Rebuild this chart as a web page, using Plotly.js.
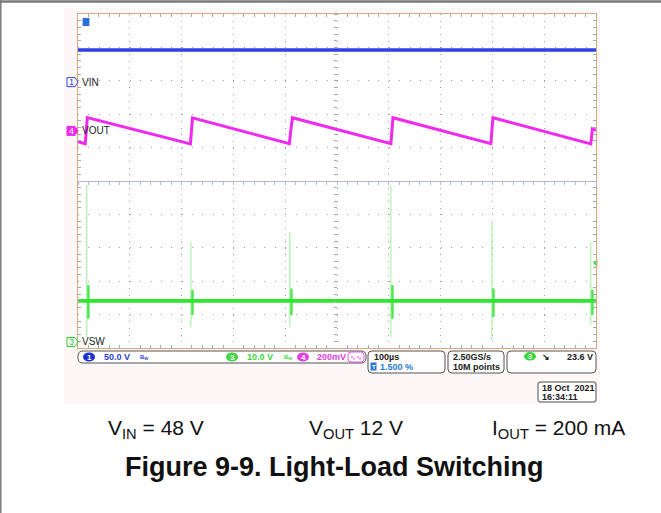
<!DOCTYPE html>
<html><head><meta charset="utf-8">
<script src="https://cdn.plot.ly/plotly-3.0.1.min.js"></script>
<style>html,body{margin:0;padding:0;background:#fff}#chart{width:661px;height:513px}</style>
</head><body><div id="chart"></div>
<script>
// ---------------- data ----------------
// time axis: 100 µs/div, 10 divisions, trigger at 1.5 % of record
const timeRange = [-15, 985];               // µs
// CH1  VIN (V)
const vinTime  = [-15, 985];
const vinVolts = [48, 48];
// CH4  VOUT ripple (mV, AC)
const voutTime   = [-15, -1, 3, 202, 206, 393, 396, 399, 589, 593, 782, 786, 975, 978, 985];
const voutRipple = [-64, -77, 80, -78, 78, -76, 8, 79, -76, 79, -76, 79, -78, 12, 4];
// CH3  VSW (V)
const vswBaseTime  = [-15, 985];
const vswBaseVolts = [12.3, 12.3];
const vswSpikeTime = [2, 203, 394, 589, 784, 975];
const vswSpikeHigh = [47, 29.9, 32.9, 47, 35.9, 29.9];
const vswSpikeLow  = [1.5, 4.5, 4.5, 1.5, 0.6, 5.1];
const vswRingHigh  = [17, 15.6, 16, 17, 16, 15.6];
const vswRingLow   = [7, 8.1, 8, 7, 7.5, 8.1];
const trigLevel = 23.6;  // V on CH3
// status-bar / caption texts
const ch1Label = 'VIN', ch3Label = 'VSW', ch4Label = 'VOUT';
const ch1ScaleTxt = '50.0 V', ch3ScaleTxt = '10.0 V', ch4ScaleTxt = '200mV';
const timebaseTxt = '100µs', trigPosTxt = '1.500 %';
const sampleTxt = ['2.50GS/s', '10M points'];
const trigTxt = '23.6 V';
const dateTxt = ['18 Oct  2021', '16:34:11'];
const condTexts = ['V<sub>IN</sub> = 48 V', 'V<sub>OUT</sub> 12 V', 'I<sub>OUT</sub> = 200 mA'];
const captionTxt = '<b>Figure 9-9. Light-Load Switching</b>';

// ---------------- channel settings (volts/div, ground position in div) ----------------
const CH1 = {scale: 50, ground: 2.96};
const CH3 = {scale: 10, ground: -4.82};
const CH4 = {scale: 200, ground: 1.5};   // mV/div

// ---------------- geometry helpers ----------------
const L = 78, R = 596, T = 14, B = 348;
const X = px => (px - L) / (R - L);
const Y = py => (B - py) / (B - T);
function rr(x0, y0, x1, y1, r) {
  const p = (x, y) => X(x) + ',' + Y(y);
  return `M ${p(x0 + r, y0)} L ${p(x1 - r, y0)} Q ${p(x1, y0)} ${p(x1, y0 + r)} L ${p(x1, y1 - r)} Q ${p(x1, y1)} ${p(x1 - r, y1)} L ${p(x0 + r, y1)} Q ${p(x0, y1)} ${p(x0, y1 - r)} L ${p(x0, y0 + r)} Q ${p(x0, y0)} ${p(x0 + r, y0)} Z`;
}
const FONT = 'Liberation Sans, Arial, sans-serif';
function ann(px, py, text, o = {}) {
  return Object.assign({xref: 'paper', yref: 'paper', x: X(px), y: Y(py), text, showarrow: false,
    xanchor: 'center', yanchor: 'middle', borderpad: 0,
    font: {family: FONT, size: o.size || 9, color: o.color || '#202020', weight: o.weight || 'bold'}}, o.extra || {});
}

// ---------------- traces ----------------
const BLUE = '#2f3fe6', MAG = '#f028f0', GREEN = '#2ee62e';
const spikeX = [], spikeY = [], ringX = [], ringY = [];
vswSpikeTime.forEach((t, i) => {
  spikeX.push(t, t, null);
  spikeY.push(CH3.ground + vswSpikeHigh[i] / CH3.scale, CH3.ground + vswSpikeLow[i] / CH3.scale, null);
  ringX.push(t + 3, t + 3, null);
  ringY.push(CH3.ground + vswRingHigh[i] / CH3.scale, CH3.ground + vswRingLow[i] / CH3.scale, null);
});
const traces = [
  {x: vinTime, y: vinVolts.map(v => CH1.ground + v / CH1.scale), mode: 'lines', line: {color: BLUE, width: 3.5}},
  {x: voutTime, y: voutRipple.map(v => CH4.ground + v / CH4.scale), mode: 'lines', line: {color: MAG, width: 3}},
  {x: spikeX, y: spikeY, mode: 'lines', line: {color: '#9af29a', width: 1}, connectgaps: false},
  {x: ringX, y: ringY, mode: 'lines', line: {color: '#4ee84e', width: 2.5}, connectgaps: false},
  {x: vswBaseTime, y: vswBaseVolts.map(v => CH3.ground + v / CH3.scale), mode: 'lines', line: {color: GREEN, width: 3.8}},
  {x: [timeRange[1]], y: [CH3.ground + trigLevel / CH3.scale], mode: 'markers', cliponaxis: false,
   marker: {symbol: 'triangle-left', size: 6, color: GREEN}},
  {x: [timeRange[0]], y: [0], xaxis: 'x2', yaxis: 'y2', mode: 'markers', marker: {opacity: 0}, hoverinfo: 'skip'}
];

// ---------------- shapes ----------------
const shapes = [
  {type: 'rect', xref: 'paper', yref: 'paper', x0: X(64), x1: X(600), y0: Y(8), y1: Y(404), fillcolor: '#fef7f7', line: {width: 0}, layer: 'below'},
  {type: 'rect', xref: 'paper', yref: 'paper', x0: 0, x1: 1, y0: 0, y1: 1, fillcolor: '#ffffff', line: {width: 0}, layer: 'below'},
  {type: 'line', xref: 'paper', yref: 'paper', x0: X(0), x1: X(661), y0: Y(1.5), y1: Y(1.5), line: {color: '#7a7a7a', width: 2.5}},
  {type: 'line', xref: 'paper', yref: 'paper', x0: X(0.8), x1: X(0.8), y0: Y(0), y1: Y(513), line: {color: '#7a7a7a', width: 1.5}},
  // status boxes
  {type: 'path', xref: 'paper', yref: 'paper', path: rr(78, 351, 366, 363, 5), line: {color: '#555', width: 1}, fillcolor: '#fff'},
  {type: 'path', xref: 'paper', yref: 'paper', path: rr(368, 351, 445, 373, 4), line: {color: '#555', width: 1}, fillcolor: '#fff'},
  {type: 'path', xref: 'paper', yref: 'paper', path: rr(448, 351, 504, 373, 4), line: {color: '#555', width: 1}, fillcolor: '#fff'},
  {type: 'path', xref: 'paper', yref: 'paper', path: rr(507, 351, 596, 373, 4), line: {color: '#555', width: 1}, fillcolor: '#fff'},
  {type: 'path', xref: 'paper', yref: 'paper', path: rr(538, 382, 596, 402, 3), line: {color: '#888', width: 1.5}, fillcolor: '#fff'},
  {type: 'path', xref: 'paper', yref: 'paper', path: rr(348, 352, 364, 362, 3), line: {color: MAG, width: 0.8}, fillcolor: '#fff'},
  // channel ovals
  {type: 'circle', xref: 'paper', yref: 'paper', x0: X(83), x1: X(95), y0: Y(352.5), y1: Y(361.5), fillcolor: '#1b2fd0', line: {width: 0}},
  {type: 'circle', xref: 'paper', yref: 'paper', x0: X(226), x1: X(238), y0: Y(352.5), y1: Y(361.5), fillcolor: '#3ed63e', line: {width: 0}},
  {type: 'circle', xref: 'paper', yref: 'paper', x0: X(297), x1: X(309), y0: Y(352.5), y1: Y(361.5), fillcolor: '#e040e0', line: {width: 0}},
  {type: 'circle', xref: 'paper', yref: 'paper', x0: X(524), x1: X(536), y0: Y(352), y1: Y(360.5), fillcolor: '#3ed63e', line: {width: 0}},
  {type: 'rect', xref: 'paper', yref: 'paper', x0: X(370.5), x1: X(376.5), y0: Y(362.5), y1: Y(370.5), fillcolor: '#2a7ad8', line: {width: 0}},
  // trigger-position marker
  {type: 'rect', xref: 'x', yref: 'paper', x0: -6, x1: 7, y0: Y(18), y1: Y(26), fillcolor: '#2a6fd8', line: {width: 0}}
];
// channel ground markers (pentagons)
function pent(ground, fill, stroke) {
  const yc = 181 - ground * 33.4;
  const p = (x, y) => X(x) + ',' + Y(y);
  return {type: 'path', xref: 'paper', yref: 'paper',
    path: `M ${p(67, yc - 4.5)} L ${p(75, yc - 4.5)} L ${p(78, yc)} L ${p(75, yc + 4.5)} L ${p(67, yc + 4.5)} Z`,
    fillcolor: fill, line: {color: stroke, width: 1}};
}
shapes.push(pent(CH1.ground, '#fff', BLUE), pent(CH4.ground, MAG, MAG), pent(CH3.ground, '#fff', '#2ec82e'));

// ---------------- annotations ----------------
const chAnn = (ground, num, numColor, label) => [
  {xref: 'paper', yref: 'y', x: X(71.5), y: ground, text: num, showarrow: false, xanchor: 'center', yanchor: 'middle',
   font: {family: FONT, size: 9, color: numColor}},
  {xref: 'paper', yref: 'y', x: X(80), y: ground, text: label, showarrow: false, xanchor: 'left', yanchor: 'middle',
   font: {family: FONT, size: 10, color: '#222'}}
];
const annotations = [
  ...chAnn(CH1.ground, '1', BLUE, ch1Label),
  ...chAnn(CH4.ground, '4', '#fff', ch4Label),
  ...chAnn(CH3.ground, '3', '#2ec82e', ch3Label),
  {xref: 'x', yref: 'paper', x: 0.5, y: Y(22), text: '<b>T</b>', showarrow: false, font: {family: FONT, size: 8, color: '#fff'}},
  {xref: 'x', yref: 'paper', x: 0.5, y: Y(15.5), text: '▼', showarrow: false, font: {family: 'DejaVu Sans', size: 6, color: '#2a6fd8'}},
  ann(89, 357, '1', {size: 8, color: '#fff'}),
  ann(117, 357, ch1ScaleTxt, {color: '#2f3fd8'}),
  ann(144, 357, 'B<sub>W</sub>', {size: 6, color: '#2f3fd8'}),
  ann(232, 357, '3', {size: 8, color: '#fff'}),
  ann(260, 357, ch3ScaleTxt, {color: '#3ed63e'}),
  ann(288, 357, 'B<sub>W</sub>', {size: 6, color: '#3ed63e'}),
  ann(303, 357, '4', {size: 8, color: '#fff'}),
  ann(331, 357, ch4ScaleTxt, {color: '#e040e0'}),
  ann(356, 357, '∿∿', {size: 7, color: '#e040e0', weight: 'normal'}),
  ann(373, 356.5, timebaseTxt, {extra: {xanchor: 'left'}}),
  ann(373.5, 366.5, 'T', {size: 6, color: '#fff'}),
  ann(379, 366.5, trigPosTxt, {color: '#2a7ad8', extra: {xanchor: 'left'}}),
  ann(452, 356.5, sampleTxt[0], {extra: {xanchor: 'left'}}),
  ann(452, 366.5, sampleTxt[1], {extra: {xanchor: 'left'}}),
  ann(530, 356.3, '3', {size: 7, color: '#fff'}),
  ann(546, 356.5, '↘', {size: 9, color: '#202020'}),
  ann(594, 356.5, trigTxt, {extra: {xanchor: 'right'}}),
  ann(541, 387.5, dateTxt[0], {extra: {xanchor: 'left'}}),
  ann(541, 397, dateTxt[1], {extra: {xanchor: 'left'}}),
  ann(156, 429, condTexts[0], {size: 21, color: '#111', weight: 'normal'}),
  ann(356, 429, condTexts[1], {size: 21, color: '#111', weight: 'normal'}),
  ann(558, 429, condTexts[2], {size: 21, color: '#111', weight: 'normal'}),
  ann(334, 467, captionTxt, {size: 27, color: '#111', weight: 'normal'})
];

// ---------------- layout ----------------
const FRAME = '#d4aa84', GRID = '#a0a0a0', TICK = '#a8a8a8', CROSS = '#b4b8d8';
const layout = {
  width: 661, height: 513,
  margin: {l: L, r: 661 - R, t: T, b: 513 - B, pad: 0},
  paper_bgcolor: '#ffffff', plot_bgcolor: '#ffffff',
  showlegend: false,
  xaxis: {range: timeRange, tick0: timeRange[0], dtick: 100, showticklabels: false,
    showgrid: true, gridcolor: GRID, gridwidth: 1, griddash: '1px,5.68px', zeroline: false,
    showline: true, linecolor: FRAME, linewidth: 1, mirror: 'allticks',
    ticks: 'inside', ticklen: 0, tickcolor: TICK,
    minor: {ticks: 'inside', dtick: 20, tick0: timeRange[0], ticklen: 3, tickcolor: TICK, showgrid: false},
    fixedrange: true},
  yaxis: {range: [-5, 5], tick0: 0, dtick: 1, showticklabels: false,
    showgrid: true, gridcolor: GRID, gridwidth: 1, griddash: '1px,9.36px', zeroline: false,
    showline: true, linecolor: FRAME, linewidth: 1, mirror: 'allticks',
    ticks: 'inside', ticklen: 0, tickcolor: TICK,
    minor: {ticks: 'inside', dtick: 0.2, tick0: 0, ticklen: 3, tickcolor: TICK, showgrid: false},
    fixedrange: true},
  xaxis2: {overlaying: 'x', anchor: 'free', position: 0.5, range: timeRange, tick0: timeRange[0], dtick: 100,
    showticklabels: false, showgrid: false, zeroline: false, showline: true, linecolor: CROSS, linewidth: 1,
    ticks: 'outside', ticklen: 3, tickcolor: CROSS,
    minor: {ticks: 'outside', dtick: 20, tick0: timeRange[0], ticklen: 3, tickcolor: CROSS}, fixedrange: true},
  yaxis2: {overlaying: 'y', anchor: 'free', position: 0.5, range: [-5, 5], tick0: 0, dtick: 1,
    showticklabels: false, showgrid: false, zeroline: false, showline: false,
    ticks: 'outside', ticklen: 3, tickcolor: TICK,
    minor: {ticks: 'outside', dtick: 0.2, tick0: 0, ticklen: 3, tickcolor: TICK}, fixedrange: true},
  shapes, annotations
};
traces.forEach(t => { t.showlegend = false; t.hoverinfo = 'skip'; });
Plotly.newPlot('chart', traces, layout, {staticPlot: true, displayModeBar: false});
</script>
</body></html>
